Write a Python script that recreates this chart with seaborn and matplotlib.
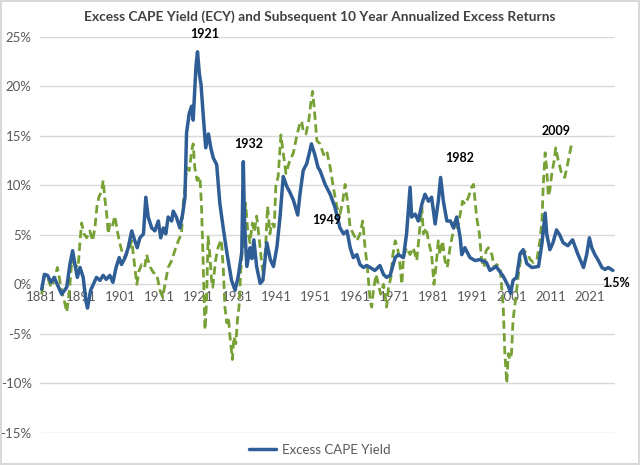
import matplotlib
matplotlib.use("Agg")
import matplotlib.pyplot as plt
import seaborn as sns
import pandas as pd

# ---------------- data ----------------
blue_year = [1881.0, 1881.7, 1882.5, 1883.4, 1884.2, 1885.3, 1886.1, 1887.4, 1888.2, 1888.9,
             1889.5, 1890.1, 1890.8, 1891.6, 1892.3, 1892.7, 1893.5, 1894.2, 1895.0, 1895.9,
             1896.7, 1897.5, 1898.4, 1899.2, 1900.0, 1900.8, 1901.4, 1902.3, 1903.1, 1904.0,
             1904.8, 1905.4, 1906.1, 1907.0, 1907.6, 1908.2, 1909.1, 1909.9, 1910.8, 1911.4,
             1912.1, 1912.7, 1913.3, 1914.2, 1914.6, 1915.4, 1916.3, 1917.0, 1917.6, 1918.0,
             1918.7, 1919.3, 1919.7, 1920.4, 1920.8, 1921.3, 1921.7, 1922.3, 1922.9, 1923.6,
             1924.2, 1924.8, 1925.7, 1926.5, 1927.4, 1928.3, 1929.5, 1930.4, 1931.2, 1932.1,
             1932.5, 1932.8, 1933.4, 1934.2, 1934.7, 1935.2, 1935.9, 1936.8, 1937.5, 1938.5,
             1939.4, 1940.2, 1941.1, 1941.9, 1942.7, 1943.6, 1944.4, 1945.3, 1946.4, 1947.0,
             1947.8, 1948.7, 1949.5, 1949.9, 1950.7, 1951.6, 1952.1, 1953.4, 1954.7, 1955.9,
             1957.2, 1958.1, 1959.0, 1959.8, 1960.6, 1961.5, 1962.3, 1963.2, 1964.0, 1964.9,
             1966.1, 1967.4, 1968.3, 1969.1, 1970.0, 1971.3, 1972.1, 1973.4, 1974.2, 1975.1,
             1975.5, 1976.4, 1977.2, 1978.1, 1978.9, 1979.8, 1980.6, 1981.5, 1982.3, 1982.9,
             1983.6, 1984.5, 1985.4, 1986.2, 1987.0, 1987.9, 1988.3, 1989.1, 1990.4, 1991.7,
             1992.9, 1994.6, 1995.5, 1997.1, 1998.9, 2000.2, 2000.8, 2001.4, 2002.3, 2003.2,
             2004.0, 2004.9, 2006.2, 2007.9, 2008.8, 2009.6, 2010.0, 2010.8, 2011.6, 2012.5,
             2013.3, 2014.2, 2015.4, 2016.6, 2017.9, 2019.4, 2020.2, 2020.9, 2021.5, 2022.3,
             2023.2, 2024.1, 2024.9, 2025.7, 2026.9]
blue_val = [-0.5, 1.0, 0.9, 0.2, 0.7, -0.3, -1.0, -0.3, 2.0, 3.4,
            2.0, 0.7, 1.7, 0.7, -1.7, -2.4, -0.6, 0.0, 0.7, 0.4,
            0.9, 0.5, 0.9, 0.2, 1.7, 2.7, 2.0, 2.7, 3.7, 5.4,
            4.4, 3.7, 4.7, 5.1, 8.8, 6.8, 5.7, 5.4, 6.4, 4.7,
            5.7, 5.1, 6.8, 6.4, 7.4, 6.8, 5.7, 7.1, 8.8, 15.3,
            17.3, 18.0, 16.6, 22.0, 23.5, 21.2, 20.2, 16.9, 13.8, 15.2,
            13.8, 12.8, 12.1, 8.2, 5.6, 3.2, 0.4, -0.6, 0.8, 3.2,
            12.4, 6.3, 1.8, 3.7, 2.6, 4.5, 1.8, 0.1, 0.4, 4.2,
            2.5, 1.8, 3.8, 6.9, 10.9, 9.9, 9.3, 8.5, 7.0, 9.2,
            11.5, 12.2, 13.5, 14.2, 13.2, 11.8, 11.5, 10.1, 9.1, 7.8,
            5.7, 5.1, 5.4, 3.7, 2.7, 3.0, 2.0, 1.7, 1.9, 1.7,
            1.4, 1.9, 1.0, 0.7, 0.9, 2.7, 3.0, 2.7, 5.1, 9.8,
            6.8, 7.1, 6.4, 8.1, 9.1, 8.4, 8.8, 6.1, 8.4, 10.8,
            8.4, 6.4, 6.4, 5.7, 6.8, 4.7, 3.0, 3.7, 2.7, 2.4,
            2.5, 2.2, 1.4, 1.8, 0.8, -0.2, -0.9, 0.4, 0.7, 3.1,
            3.5, 2.1, 1.7, 1.8, 4.2, 7.2, 5.1, 3.5, 4.2, 5.5,
            5.0, 4.2, 3.9, 4.5, 3.1, 1.7, 3.0, 4.7, 3.7, 3.0,
            2.4, 1.7, 1.5, 1.7, 1.4]

green_year = [1881.0, 1881.7, 1882.5, 1883.4, 1884.2, 1885.0, 1885.5, 1886.1, 1886.8, 1887.4,
              1888.0, 1888.7, 1889.5, 1890.3, 1890.8, 1891.2, 1891.8, 1892.5, 1893.3, 1894.0,
              1894.6, 1895.1, 1895.6, 1896.3, 1896.7, 1897.1, 1897.6, 1898.0, 1898.4, 1899.0,
              1899.7, 1900.3, 1901.0, 1901.7, 1902.3, 1903.1, 1904.0, 1904.8, 1905.3, 1905.9,
              1906.5, 1907.3, 1907.8, 1908.2, 1908.8, 1909.5, 1910.4, 1911.2, 1911.9, 1912.5,
              1913.3, 1914.2, 1915.0, 1915.9, 1916.7, 1917.2, 1917.6, 1918.0, 1918.7, 1919.3,
              1919.7, 1920.1, 1920.7, 1921.4, 1921.8, 1922.3, 1922.7, 1923.1, 1923.5, 1923.9,
              1924.4, 1924.7, 1925.4, 1926.1, 1926.9, 1927.4, 1927.8, 1928.3, 1928.7, 1929.1,
              1929.7, 1930.1, 1930.6, 1931.0, 1931.4, 1931.8, 1932.5, 1933.1, 1933.6, 1934.2,
              1934.8, 1935.3, 1935.9, 1936.5, 1937.2, 1937.6, 1938.2, 1938.7, 1939.3, 1939.8,
              1940.4, 1940.8, 1941.4, 1942.1, 1942.7, 1943.4, 1944.2, 1945.3, 1946.1, 1946.9,
              1947.4, 1947.8, 1948.5, 1949.2, 1949.8, 1950.2, 1950.6, 1951.3, 1952.1, 1953.0,
              1953.8, 1954.7, 1955.5, 1956.4, 1957.2, 1957.9, 1958.5, 1959.1, 1959.8, 1960.6,
              1961.5, 1962.3, 1963.0, 1963.6, 1964.2, 1964.9, 1965.3, 1965.7, 1966.4, 1967.0,
              1967.6, 1968.3, 1968.7, 1969.1, 1969.6, 1970.2, 1970.7, 1971.3, 1971.9, 1972.4,
              1973.0, 1973.4, 1974.2, 1975.1, 1975.9, 1976.8, 1977.6, 1978.1, 1978.5, 1979.2,
              1979.8, 1980.6, 1981.2, 1981.7, 1982.3, 1982.7, 1983.4, 1984.0, 1984.6, 1985.3,
              1986.0, 1986.6, 1987.2, 1987.9, 1988.5, 1989.2, 1990.0, 1990.8, 1991.3, 1991.7,
              1992.1, 1992.8, 1993.4, 1994.0, 1994.5, 1995.1, 1996.0, 1996.6, 1997.2, 1998.1,
              1998.9, 1999.3, 1999.8, 2000.2, 2000.6, 2001.0, 2001.4, 2001.8, 2002.2, 2002.7,
              2003.3, 2003.8, 2004.9, 2005.8, 2006.6, 2007.5, 2008.3, 2008.8, 2009.1, 2009.6,
              2010.0, 2010.4, 2010.8, 2011.3, 2011.9, 2012.3, 2012.9, 2013.8, 2014.6, 2015.2,
              2015.7, 2016.4]
green_val = [-1.0, 1.0, 0.7, -0.3, 0.4, 1.7, 0.7, -0.7, -1.7, -2.8,
             -1.0, 2.4, 2.0, 1.7, 4.4, 6.2, 5.1, 4.7, 5.4, 4.4,
             5.7, 7.8, 8.8, 9.4, 10.5, 8.8, 7.1, 5.1, 6.1, 5.8,
             6.9, 5.4, 4.1, 3.0, 2.7, 3.4, 4.4, 1.7, 0.0, 1.4,
             2.0, 1.7, 3.0, 2.4, 1.7, 1.2, 1.0, -0.6, -1.3, 0.0,
             1.7, 2.4, 3.4, 4.4, 5.1, 8.4, 9.8, 11.8, 11.5, 13.5,
             14.2, 11.8, 10.5, 10.9, 8.2, 1.5, -4.6, -1.9, 4.8, 3.2,
             0.4, -0.3, 2.4, 3.8, 4.5, 1.5, -2.3, -3.9, -3.3, -5.3,
             -7.6, -5.3, -6.0, -3.6, -2.3, 1.1, 4.8, 8.2, 5.5, 4.2,
             6.2, 5.3, 6.9, 4.8, 2.1, 1.1, 3.8, 7.9, 5.1, 6.2,
             5.8, 9.9, 10.9, 15.1, 13.3, 11.2, 12.3, 13.3, 14.9, 16.2,
             16.5, 15.5, 15.2, 16.5, 18.5, 19.5, 17.9, 14.5, 14.2, 13.1,
             13.5, 11.8, 9.8, 7.8, 7.1, 8.4, 10.1, 8.4, 5.7, 5.1,
             4.4, 5.1, 6.4, 3.7, 1.7, -1.7, -2.3, -0.7, 1.0, 0.0,
             -1.0, 0.0, -1.0, -2.3, -0.3, 0.7, 3.0, 4.4, 3.7, 2.4,
             0.0, 2.7, 3.7, 3.0, 3.7, 2.4, 5.7, 7.8, 5.1, 5.7,
             4.4, 3.0, 0.0, 1.7, 4.4, 3.0, 4.4, 2.4, 1.7, 3.7,
             5.1, 6.4, 5.7, 7.1, 8.4, 8.1, 8.8, 9.8, 10.1, 8.4,
             6.8, 5.1, 2.4, 1.7, 3.4, 3.7, 3.0, 1.7, 2.0, 1.7,
             -2.3, -7.0, -10.0, -7.0, -7.6, -7.0, -3.6, -2.3, -1.0, 0.8,
             2.5, 3.4, 3.2, 2.5, 2.2, 2.5, 4.5, 6.5, 9.9, 13.3,
             11.6, 8.9, 9.5, 11.2, 12.5, 13.8, 12.6, 11.2, 10.8, 11.9,
             12.9, 14.3]

tick_years = [1881, 1891, 1901, 1911, 1921, 1931, 1941, 1951, 1961, 1971,
              1981, 1991, 2001, 2011, 2021]
y_ticks = [-15, -10, -5, 0, 5, 10, 15, 20, 25]

notes_text = ["1921", "1932", "1949", "1982", "2009"]
notes_x = [1922.7, 1933.9, 1953.9, 1987.8, 2012.3]
notes_y = [25.3, 14.2, 6.5, 12.8, 15.5]

blue_df = pd.DataFrame({"year": blue_year, "val": blue_val})
green_df = pd.DataFrame({"year": green_year, "val": green_val})

# ---------------- style ----------------
sns.set_theme(style="white")
plt.rcParams["font.family"] = ["Lato", "DejaVu Sans"]

BLUE = "#2f5d96"
GREEN = "#77a035"
GRID = "#d9d9d9"
TXT = "#595959"

fig = plt.figure(figsize=(6.4, 4.65), dpi=100)
fig.patch.set_facecolor("white")
fig.patch.set_edgecolor(GRID)
fig.patch.set_linewidth(1.5)

ax = fig.add_axes([40 / 640, (465 - 432.7) / 465, 575 / 640, (432.7 - 37.0) / 465])

for yv in y_ticks:
    if yv != 0:
        ax.axhline(yv, color=GRID, lw=1.0, zorder=0)

sns.lineplot(data=green_df, x="year", y="val", ax=ax, color=GREEN, lw=2.0,
             sort=False, estimator=None, zorder=2)
sns.lineplot(data=blue_df, x="year", y="val", ax=ax, color=BLUE, lw=2.5,
             sort=False, estimator=None, zorder=3, label="Excess CAPE Yield")
ax.lines[-2].set_dashes([3.0, 1.6])

ax.set_xlim(1880.57, 2027.44)
ax.set_ylim(-15, 25)
ax.set_xlabel("")
ax.set_ylabel("")

for s in ["top", "right", "left"]:
    ax.spines[s].set_visible(False)
ax.spines["bottom"].set_position(("data", 0))
ax.spines["bottom"].set_color(GRID)
ax.spines["bottom"].set_linewidth(1.0)
ax.spines["bottom"].set_zorder(0)

ax.set_xticks(tick_years)
ax.set_xticklabels([str(t) for t in tick_years])
ax.set_yticks(y_ticks)
ax.set_yticklabels([f"{v}%" for v in y_ticks])
ax.tick_params(axis="x", length=0, pad=5, labelsize=9.5, labelcolor=TXT)
ax.tick_params(axis="y", length=0, pad=6, labelsize=9.5, labelcolor=TXT)
ax.patch.set_alpha(0)

for t, x, y in zip(notes_text, notes_x, notes_y):
    ax.text(x, y, t, ha="center", va="center", fontsize=9, fontweight="bold",
            color="black", zorder=5)
ax.text(2027.8, 0.15, "1.5%", ha="center", va="center", fontsize=9,
        fontweight="bold", color="black", clip_on=False, zorder=5)

fig.text(0.5, 1 - 17 / 465, "Excess CAPE Yield (ECY) and Subsequent 10 Year Annualized Excess Returns",
         ha="center", va="center", fontsize=9.9, fontweight="bold", color="#404040")

h, l = ax.get_legend_handles_labels()
ax.legend_.remove()
fig.legend(h, l, loc="center", bbox_to_anchor=(0.5, 1 - 450 / 465), frameon=False,
           fontsize=9.5, handlelength=2.0, handletextpad=0.5, labelcolor=TXT)

fig.savefig("out.png", dpi=100, facecolor=fig.get_facecolor(), edgecolor=fig.get_edgecolor())
